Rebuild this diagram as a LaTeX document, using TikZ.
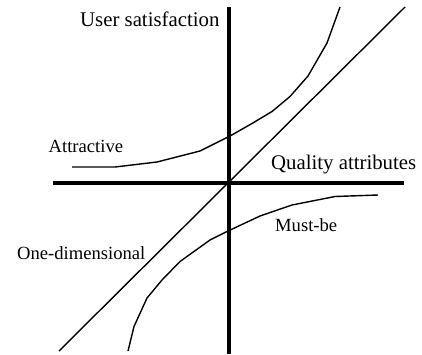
\documentclass[tikz,border=0pt]{standalone}
\usepackage{fontspec}
\setmainfont{Liberation Serif}
\usepackage{tikz}
\usetikzlibrary{positioning}

\begin{document}
\begin{tikzpicture}[
  x=1pt, y=-1pt,
  axis/.style={line width=4pt},
  curve/.style={line width=1.4pt, line join=round},
  biglabel/.style={anchor=base west, inner sep=0pt, font=\fontsize{20.8}{24}\selectfont},
  smalllabel/.style={anchor=base west, inner sep=0pt, font=\fontsize{18.6}{22}\selectfont}
]
\useasboundingbox (0,0) rectangle (422,354);
% axes
\coordinate (origin) at (228.5,182.5);
\coordinate (ytop) at (228.5,7);
\coordinate (ybot) at (228.5,354);
\coordinate (xleft) at (53,182.5);
\coordinate (xright) at (404,182.5);
\draw[axis] (ybot) -- (ytop);
\draw[axis] (xleft) -- (xright);
% one-dimensional
\coordinate (linelow) at (59,351);
\coordinate (linehigh) at (405,7);
\draw[curve] (linelow) -- (origin) -- (linehigh);
% attractive
\draw[curve] (72,167) -- (115,167) -- (157,162) -- (200,151) -- (230,136)
  -- (252,123.5) -- (272,111.5) -- (290,96.5) -- (308,76) -- (327,43) -- (340,7);
% must-be
\draw[curve] (378,195) -- (335,196.5) -- (292,205) -- (260,216) -- (227,231.5)
  -- (210,240) -- (180,261.5) -- (162,280) -- (147,298) -- (134,326.5) -- (128,351);
% labels
\node[biglabel] (ylabel) at (80,26) {User satisfaction};
\node[biglabel] (xlabel) at (271,169) {Quality attributes};
\node[smalllabel] (attr) at (48.5,152) {Attractive};
\node[smalllabel] (onedim) at (17,259.5) {One-dimensional};
\node[smalllabel] (mustbe) at (275,231) {Must-be};
\end{tikzpicture}
\end{document}
